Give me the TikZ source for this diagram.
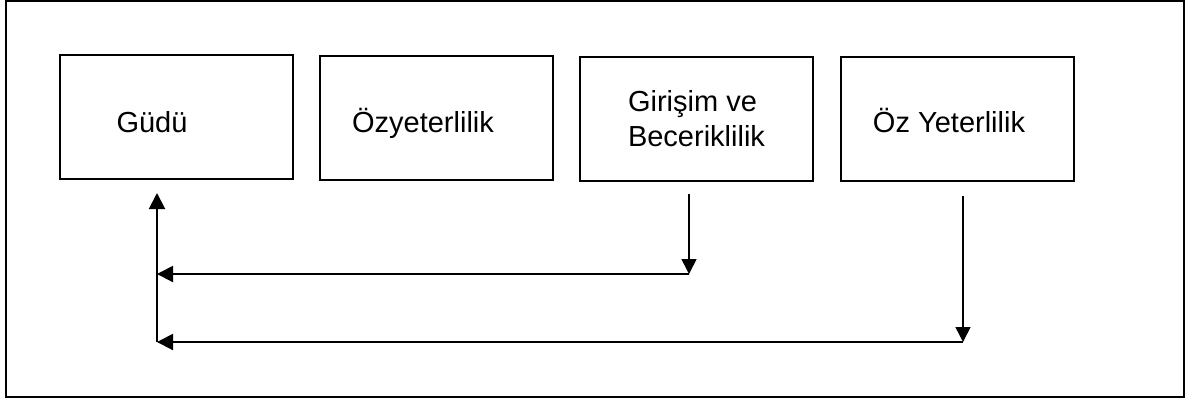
\documentclass[tikz,border=0pt]{standalone}
\usepackage{fontspec}
\setmainfont{Liberation Sans}
\usetikzlibrary{arrows.meta}
\tikzset{
    kutu/.style={draw, line width=1pt, minimum width=116.5pt, minimum height=62pt,
        inner sep=0pt, font=\fontsize{14.5}{17.5}\selectfont},
    tekst/.style={text height=15pt, text depth=0pt},
    ok/.style={line width=1pt, -{Triangle[length=8pt,width=8pt]}},
    inceok/.style={line width=0.75pt, -{Triangle[length=7.5pt,width=7.5pt]}},
}
\begin{document}
\begin{tikzpicture}[x=0.5pt,y=-0.5pt]
    \useasboundingbox (0,0) rectangle (1202,404);
    \draw[line width=1pt] (6,1) rectangle (1184,397);

    \node[kutu, tekst] (gudu) at (176.5,117) {Güdü\hspace*{24.5pt}};
    \node[kutu, tekst] (ozyet) at (436.5,117.5) {Özyeterlilik\hspace*{13.5pt}};
    \node[kutu, align=left] (girisim) at (696.5,118.5) {Girişim ve\\Beceriklilik};
    \node[kutu, tekst, text height=13pt] (ozyeter) at (957,119) {Öz Yeterlilik\hspace*{8pt}};

    % geri bildirim yollari
    \coordinate (g1) at ([xshift=-3.75pt,yshift=-6pt]girisim.south);
    \coordinate (g2) at (689,274);
    \coordinate (o1) at ([xshift=3pt,yshift=-7pt]ozyeter.south);
    \coordinate (o2) at (963,342);
    \coordinate (s1) at (157,274);
    \coordinate (s2) at (157,342);
    \coordinate (s3) at ([xshift=-9.75pt,yshift=-6.5pt]gudu.south);

    \draw[inceok] (g1) -- (g2);
    \draw[ok] (g2) -- (s1);
    \draw[inceok] (o1) -- (o2);
    \draw[ok] (o2) -- (s2);
    \draw[ok] (s2) -- (s3);
\end{tikzpicture}
\end{document}
